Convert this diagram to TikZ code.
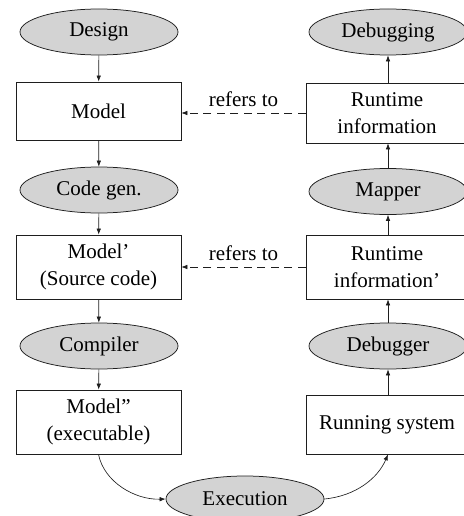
\documentclass[tikz,border=0pt]{standalone}
\usepackage{fontspec}
\setmainfont{Liberation Serif}
\usetikzlibrary{shapes.geometric,arrows.meta}
\definecolor{procfill}{RGB}{211,211,211}
\definecolor{inkline}{RGB}{30,30,30}
\begin{document}
\begin{tikzpicture}[x=1pt,y=-1pt,
  font=\fontsize{21}{27}\selectfont,
  every node/.style={text=black},
  proc/.style={ellipse, draw=inkline, line width=0.75pt, fill=procfill,
    minimum width=158pt, minimum height=46pt, inner sep=0pt},
  art/.style={rectangle, draw=inkline, line width=0.75pt, fill=white,
    align=center, inner sep=0pt},
  lbox/.style={art, minimum width=165pt},
  rbox/.style={art, minimum width=162pt},
  flow/.style={draw=inkline, line width=0.65pt, -{Latex[length=6pt,width=4.5pt]}},
  ref/.style={flow, dash pattern=on 8pt off 5.5pt},
  reflabel/.style={anchor=south, inner sep=0pt}]
\useasboundingbox (0,0) rectangle (463,516);

% development chain (left column)
\node[proc] (design) at (99,32) {Design};
\node[lbox, minimum height=58pt] (model) at (98.5,111) {Model};
\node[proc] (codegen) at (99,190) {Code gen.};
\node[lbox, minimum height=64pt] (src) at (98.5,267) {Model’\\(Source code)};
\node[proc] (compiler) at (99,346) {Compiler};
\node[lbox, minimum height=64pt] (exe) at (98.5,422) {Model”\\(executable)};

% execution
\node[proc] (exec) at (245,499) {Execution};

% debugging chain (right column)
\node[rbox, minimum height=59pt] (running) at (387,424.5) {Running system};
\node[proc] (debugger) at (388,346) {Debugger};
\node[rbox, minimum height=64pt] (rinfo2) at (387,267) {Runtime\\information’};
\node[proc] (mapper) at (388,191.5) {Mapper};
\node[rbox, minimum height=60pt] (rinfo) at (387,113) {Runtime\\information};
\node[proc] (debugging) at (388,32) {Debugging};

% vertical flow arrows
\draw[flow] (design) -- (model);
\draw[flow] (model) -- (codegen);
\draw[flow] (codegen) -- (src);
\draw[flow] (src) -- (compiler);
\draw[flow] (compiler) -- (exe);
\draw[flow] (running.north -| debugger.south) -- (debugger);
\draw[flow] (debugger) -- (rinfo2.south -| debugger.north);
\draw[flow] (rinfo2.north -| mapper.south) -- (mapper);
\draw[flow] (mapper) -- (rinfo.south -| mapper.north);
\draw[flow] (rinfo.north -| debugging.south) -- (debugging);

% curved arrows through execution
\draw[flow] (exe.south) .. controls (104,482) and (135,500) .. (exec.west);
\draw[flow] (exec.east) .. controls (356,496) and (378,478) .. (running.south -| debugger.south);

% reference arrows
\draw[ref] (rinfo.west) -- node[reflabel, yshift=6pt] {refers to} (model.east |- rinfo.west);
\draw[ref] (rinfo2.west) -- node[reflabel, yshift=6pt] {refers to} (src.east);
\end{tikzpicture}
\end{document}
